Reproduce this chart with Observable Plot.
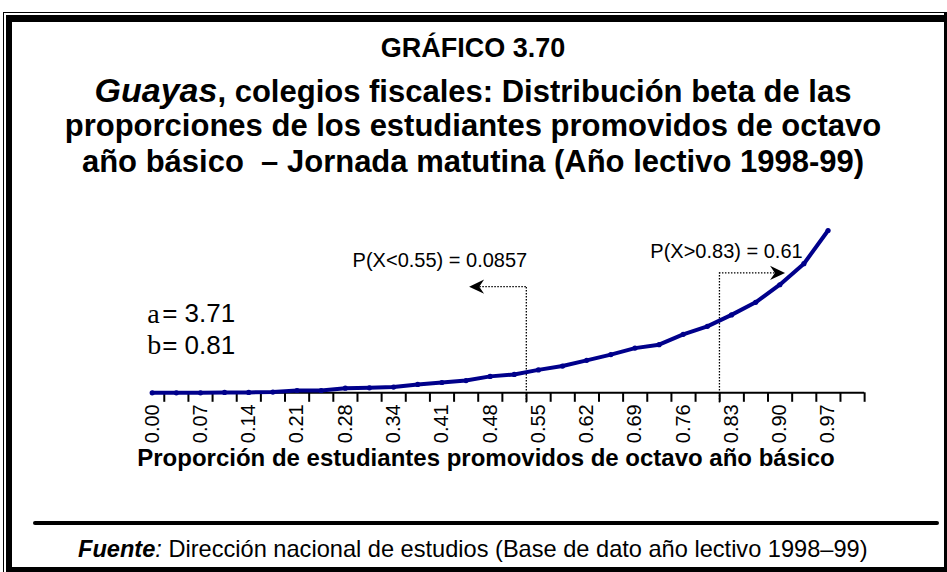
<!DOCTYPE html>
<html>
<head>
<meta charset="utf-8">
<script src="https://cdn.jsdelivr.net/npm/d3@7"></script>
<script src="https://cdn.jsdelivr.net/npm/@observablehq/plot@0.6"></script>
<style>
  html, body { margin: 0; padding: 0; background: #fff; }
  #wrap { position: relative; width: 947px; height: 572px; overflow: hidden; background: #fff;
          font-family: "Liberation Sans", Arial, sans-serif; color: #000; }
  .ln { position: absolute; left: 0; width: 946px; text-align: center; white-space: nowrap;
        font-weight: bold; line-height: 36px; }
  .ln span { line-height: 36px; }
  #chart { position: absolute; left: 0; top: 0; }
  .frameOuter { position: absolute; left: 3px; top: 12px; width: 960px; height: 600px;
                border: 1.5px solid #000; box-sizing: border-box; }
  .frameThick { position: absolute; left: 6px; top: 15px; width: 960px; height: 557px;
                border-left: 6px solid #000; border-top: 7px solid #000; border-bottom: 5px solid #000;
                box-sizing: border-box; }
  .frameRight { position: absolute; left: 944px; top: 12px; width: 3px; height: 560px; background: #000; }
  .sep { position: absolute; left: 33px; top: 521px; width: 906px; height: 4px; background: #000; border-radius: 2px; }
  .axtitle { position: absolute; left: 0; width: 972px; text-align: center; top: 444px;
             font-weight: bold; font-size: 24px; line-height: 28px; white-space: nowrap; }
  .src { position: absolute; left: 78px; top: 535px; font-size: 23.6px; line-height: 28px; white-space: nowrap; }
</style>
</head>
<body>
<div id="wrap">
  <div class="frameOuter"></div>
  <div class="frameThick"></div>
  <div class="frameRight"></div>
  <div class="ln" style="top:30px;font-size:27px;">GRÁFICO 3.70</div>
  <div class="ln" style="top:72px;font-size:31px;"><span style="font-style:italic;font-size:34px;">Guayas</span>, colegios fiscales: Distribución beta de las</div>
  <div class="ln" style="top:108px;font-size:31px;">proporciones de los estudiantes promovidos de octavo</div>
  <div class="ln" style="top:144px;font-size:31px;">año básico&nbsp; – Jornada matutina (Año lectivo 1998-99)</div>
  <div id="chart"></div>
  <div class="axtitle">Proporción de estudiantes promovidos de octavo año básico</div>
  <div class="sep"></div>
  <div class="src"><b><i>Fuente</i></b><i>:</i> Dirección nacional de estudios (Base de dato año lectivo 1998–99)</div>
</div>
<script>
// ---- data ----
const categories = [0.0000, 0.0345, 0.0690, 0.1034, 0.1379, 0.1724, 0.2069, 0.2414, 0.2759, 0.3103,
                    0.3448, 0.3793, 0.4138, 0.4483, 0.4828, 0.5172, 0.5517, 0.5862, 0.6207, 0.6552,
                    0.6897, 0.7241, 0.7586, 0.7931, 0.8276, 0.8621, 0.8966, 0.9310, 0.9655];
const density = [0, 0, 0, 0.01, 0.01, 0.02, 0.06, 0.06, 0.12, 0.13,
                 0.15, 0.22, 0.27, 0.32, 0.43, 0.48, 0.60, 0.70, 0.85, 1.00,
                 1.17, 1.26, 1.53, 1.74, 2.04, 2.37, 2.83, 3.38, 4.25];
const tickLabels = ["0.00","0.07","0.14","0.21","0.28","0.34","0.41","0.48",
                    "0.55","0.62","0.69","0.76","0.83","0.90","0.97"];
const paramNames = ["a", "b"];
const paramValues = ["3.71", "0.81"];
const cutoffs = [0.55, 0.83];
const probLabels = ["P(X<0.55) = 0.0857", "P(X>0.83) = 0.61"];

// ---- derived ----
const step = categories[1] - categories[0];
const points = categories.map((c, i) => ({x: c, y: density[i]}));
const tickPositions = d3.range(categories.length + 1).map(i => categories[0] + (i + 0.5) * step);
const labelData = tickLabels.map((t, k) => ({x: categories[2 * k], t}));
const cutIdx = cutoffs.map(c => d3.minIndex(categories, v => Math.abs(v - c)));
const cutX = cutIdx.map(i => (categories[i] + categories[i - 1]) / 2);

// annotation layout (chart units)
const ann = [
  {x: cutX[0], yArrow: 2.78, dir: -1, head: cutX[0] - 0.071, tx: 0.411, ty: 3.47, label: probLabels[0]},
  {x: cutX[1], yArrow: 3.14, dir: 1,  head: cutX[1] + 0.083, tx: 0.8204, ty: 3.71, label: probLabels[1]}
];
const params = paramNames.map((n, i) => ({n, v: "= " + paramValues[i], y: i === 0 ? 2.07 : 1.24}));

const stealth = {
  draw(ctx, size) {
    const r = Math.sqrt(size / Math.PI);
    ctx.moveTo(0, -r);
    ctx.lineTo(r * 0.95, r);
    ctx.lineTo(0, r * 0.35);
    ctx.lineTo(-r * 0.95, r);
    ctx.closePath();
  }
};

const navy = "#00008b";
const chart = Plot.plot({
  width: 947,
  height: 572,
  marginLeft: 151.7,
  marginRight: 95.3,
  marginTop: 230,
  marginBottom: 179.7,
  style: {background: "transparent", fontFamily: "'Liberation Sans', Arial, sans-serif", color: "#000", overflow: "visible"},
  x: {domain: [0, 1], axis: null},
  y: {domain: [0, 4.25], axis: null},
  marks: [
    // axis line + ticks
    Plot.ruleY([0], {x1: categories[0], x2: tickPositions[tickPositions.length - 1], stroke: "#000", strokeWidth: 2}),
    Plot.axisX(tickPositions, {anchor: "bottom", tickSize: 9.5, tickFormat: () => "", strokeWidth: 2, stroke: "#000"}),
    Plot.text(labelData, {x: "x", y: () => 0, text: "t", rotate: -90, textAnchor: "end", dy: 11.5,
                          fontSize: 20, fill: "#000"}),
    // dotted cut-off lines and arrows
    Plot.ruleX(ann, {x: "x", y1: -0.27, y2: "yArrow", stroke: "#000", strokeWidth: 1.3, strokeDasharray: "1.5,1.5"}),
    Plot.ruleY(ann, {y: "yArrow", x1: "x", x2: "head", stroke: "#000", strokeWidth: 1.3, strokeDasharray: "1.5,1.5"}),
    Plot.dot(ann, {x: "head", y: "yArrow", symbol: stealth, r: 7.5, fill: "#000", stroke: "none",
                   rotate: d => d.dir * 90}),
    Plot.text(ann, {x: "tx", y: "ty", text: "label", fontSize: 20, fill: "#000"}),
    // parameters
    Plot.text(params, {x: () => 0, y: "y", text: "n", textAnchor: "start", dx: -5, fontSize: 28,
                       fontFamily: "'Liberation Serif', serif", fill: "#000"}),
    Plot.text(params, {x: () => 0, y: "y", text: "v", textAnchor: "start", dx: 10, fontSize: 26, fill: "#000"}),
    // curve
    Plot.line(points, {x: "x", y: "y", stroke: navy, strokeWidth: 4, strokeLinejoin: "round", strokeLinecap: "round"}),
    Plot.dot(points, {x: "x", y: "y", r: 2.6, fill: navy, stroke: "none"})
  ]
});
document.getElementById("chart").appendChild(chart);
</script>
</body>
</html>
